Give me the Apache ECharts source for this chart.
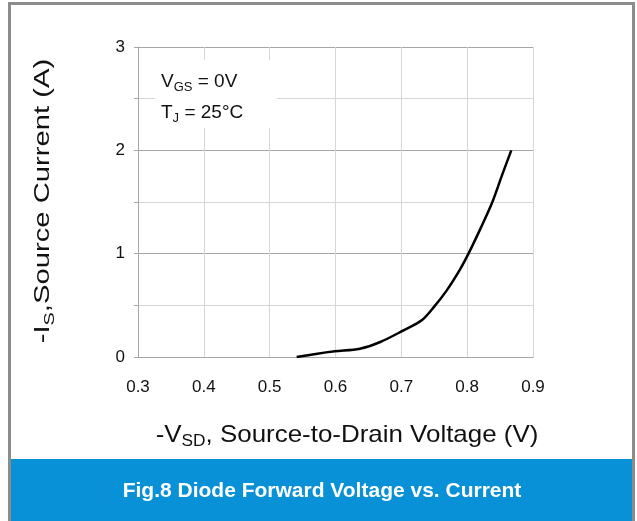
<!DOCTYPE html>
<html>
<head>
<meta charset="utf-8">
<script src="https://cdn.jsdelivr.net/npm/echarts@6/dist/echarts.min.js"></script>
<style>
html,body{margin:0;padding:0;background:#fff;}
#chart{width:637px;height:521px;}
</style>
</head>
<body>
<div id="chart"></div>
<script>
// Data
var voltage = [0.541, 0.57, 0.599, 0.637, 0.668, 0.701, 0.731, 0.749, 0.769, 0.789, 0.802, 0.820, 0.838, 0.853, 0.867];
var current = [0, 0.03, 0.055, 0.08, 0.145, 0.25, 0.355, 0.48, 0.645, 0.846, 1.0, 1.24, 1.495, 1.76, 2.0];
var xTicks = ['0.3', '0.4', '0.5', '0.6', '0.7', '0.8', '0.9'];
var yTicks = ['0', '1', '2', '3'];
var titleText = 'Fig.8 Diode Forward Voltage vs. Current';

var FONT = 'Liberation Sans, Arial, sans-serif';
var chart = echarts.init(document.getElementById('chart'), null, {renderer: 'canvas'});

var points = voltage.map(function (v, i) { return [v, current[i]]; });

var option = {
  animation: false,
  backgroundColor: '#fff',
  grid: {left: 138, right: 104, top: 47, bottom: 164, containLabel: false},
  xAxis: {
    type: 'value', min: 0.3, max: 0.9, interval: 0.1,
    axisLine: {show: true, lineStyle: {color: '#a6a6a6', width: 1}},
    axisTick: {show: false},
    axisLabel: {
      margin: 22, color: '#111', fontSize: 17, fontFamily: FONT,
      formatter: function (v) {
        var s = v.toFixed(1);
        return xTicks.indexOf(s) >= 0 ? s : '';
      }
    },
    splitLine: {show: true, lineStyle: {color: '#d6d6d6', width: 1}}
  },
  yAxis: {
    type: 'value', min: 0, max: 3, interval: 0.5,
    axisLine: {show: true, lineStyle: {color: '#a6a6a6', width: 1}},
    axisTick: {show: true, length: 4, lineStyle: {color: '#a6a6a6'}},
    axisLabel: {
      margin: 13, color: '#111', fontSize: 17, fontFamily: FONT,
      formatter: function (v) {
        var s = String(Math.round(v * 100) / 100);
        return yTicks.indexOf(s) >= 0 ? s : '';
      }
    },
    splitLine: {show: true, lineStyle: {color: ['#a6a6a6', '#d6d6d6'], width: 1}}
  },
  series: [{
    type: 'line',
    data: points,
    smooth: 0.3,
    showSymbol: false,
    lineStyle: {color: '#000', width: 2.5},
    z: 5
  }],
  graphic: [
    // outer frame
    {type: 'rect', shape: {x: 9.5, y: 3.5, width: 624, height: 540},
     style: {fill: 'none', stroke: '#8c8c8c', lineWidth: 3}, z: 1},
    // caption banner
    {type: 'rect', shape: {x: 11, y: 459, width: 621, height: 62},
     style: {fill: '#0891d6'}, z: 2},
    {type: 'text', x: 322, y: 491, z: 3,
     style: {text: titleText, fill: '#fff', font: 'bold 21px ' + FONT,
             textAlign: 'center', textVerticalAlign: 'middle'}},
    // annotation box
    {type: 'rect', shape: {x: 155, y: 60, width: 122, height: 68},
     style: {fill: '#fff'}, z: 10},
    {type: 'text', x: 161, y: 66, z: 11,
     style: {
       text: '{n|V}{s|GS}{n| = 0V}\n{n|T}{s|J}{n| = 25°C}',
       rich: {
         n: {fontSize: 19, fontFamily: FONT, fill: '#111', lineHeight: 31},
         s: {fontSize: 13, fontFamily: FONT, fill: '#111', lineHeight: 13, padding: [12, 0, 0, 0]}
       }
     }},
    // y axis name
    {type: 'text', x: 43, y: 201, rotation: Math.PI / 2, scaleX: 1.17, scaleY: 0.85, z: 3,
     style: {
       text: '{n|-I}{s|S}{n|,Source Current (A)}',
       textAlign: 'center', textVerticalAlign: 'middle',
       rich: {
         n: {fontSize: 25, fontFamily: FONT, fill: '#111', lineHeight: 30},
         s: {fontSize: 17, fontFamily: FONT, fill: '#111', lineHeight: 17, padding: [16, 0, 0, 0]}
       }
     }},
    // x axis name
    {type: 'text', x: 347, y: 435, scaleX: 1.08, z: 3,
     style: {
       text: '{n|-V}{s|SD}{n|, Source-to-Drain Voltage (V)}',
       textAlign: 'center', textVerticalAlign: 'middle',
       rich: {
         n: {fontSize: 24, fontFamily: FONT, fill: '#111', lineHeight: 28},
         s: {fontSize: 16, fontFamily: FONT, fill: '#111', lineHeight: 16, padding: [14, 0, 0, 0]}
       }
     }}
  ]
};
chart.setOption(option);
</script>
</body>
</html>
